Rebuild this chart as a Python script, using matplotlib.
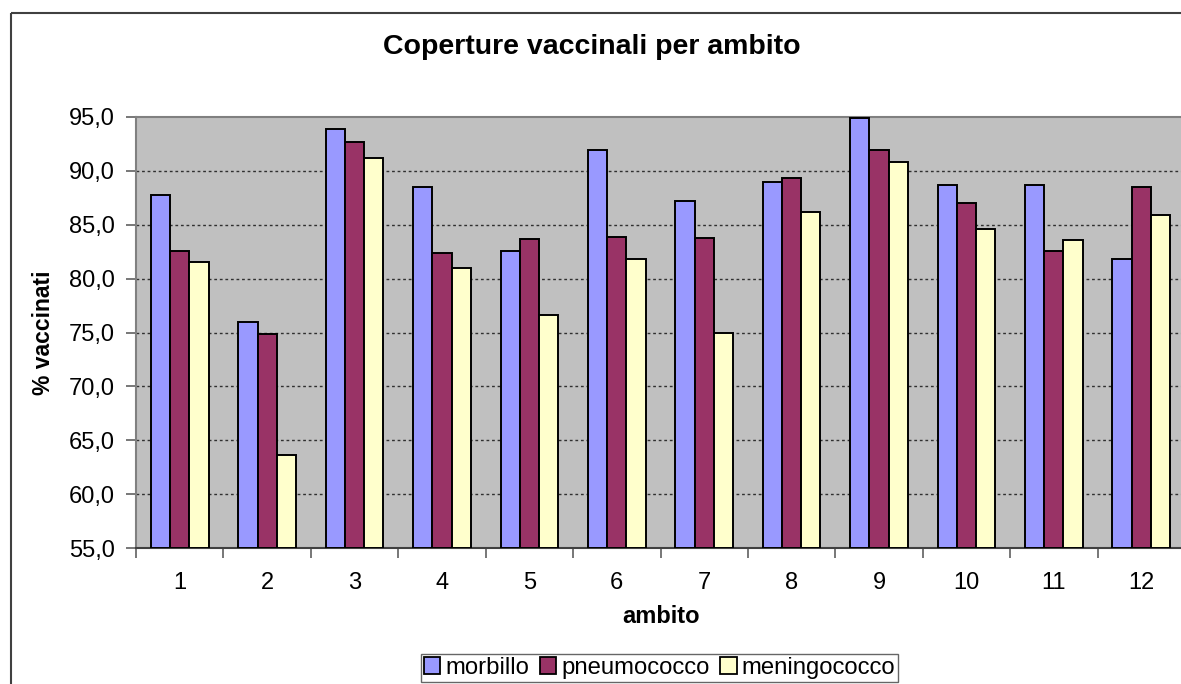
import matplotlib
matplotlib.use("Agg")
import matplotlib.pyplot as plt
from matplotlib.lines import Line2D
import numpy as np

plt.rcParams['font.family'] = ['Liberation Sans', 'DejaVu Sans']

categories = ['1', '2', '3', '4', '5', '6', '7', '8', '9', '10', '11', '12']
morbillo = [87.8, 76.0, 93.9, 88.5, 82.6, 91.9, 87.2, 89.0, 94.9, 88.7, 88.7, 81.8]
pneumococco = [82.6, 74.9, 92.7, 82.4, 83.7, 83.9, 83.8, 89.3, 91.9, 87.0, 82.6, 88.5]
meningococco = [81.5, 63.6, 91.2, 81.0, 76.6, 81.8, 75.0, 86.2, 90.8, 84.6, 83.6, 85.9]
series_names = ['morbillo', 'pneumococco', 'meningococco']
yticks = [55.0, 60.0, 65.0, 70.0, 75.0, 80.0, 85.0, 90.0, 95.0]
ytick_labels = ['55,0', '60,0', '65,0', '70,0', '75,0', '80,0', '85,0', '90,0', '95,0']

colors = ['#9999FF', '#993366', '#FFFFCC']

W, H = 1181, 684
fig = plt.figure(figsize=(W / 100, H / 100), dpi=100)

# outer chart frame (left and top edges; the rest lies beyond the image)
top = 1 - 13 / H
fig.add_artist(Line2D([11 / W, 11 / W], [0.0, top], transform=fig.transFigure,
                      color='#404040', linewidth=1.5, solid_capstyle='butt', zorder=0))
fig.add_artist(Line2D([11 / W, 1.0], [top, top], transform=fig.transFigure,
                      color='#404040', linewidth=1.5, solid_capstyle='butt', zorder=0,
                      clip_on=False))

ax = fig.add_axes([136 / W, (H - 548) / H, (1185 - 136) / W, (548 - 117) / H])
ax.set_facecolor('#C0C0C0')

x = np.arange(len(categories))
bw = 0.22
for i, (vals, name, c) in enumerate(zip([morbillo, pneumococco, meningococco], series_names, colors)):
    ax.bar(x + (i - 1) * bw, np.array(vals) - 55.0, bottom=55.0, width=bw,
           color=c, edgecolor='black', linewidth=1.4, label=name, zorder=3)

ax.set_xlim(-0.5, len(categories) - 0.5)
ax.set_ylim(55, 95)
ax.set_yticks(yticks)
ax.set_yticklabels(ytick_labels)
ax.set_xticks(x)
ax.set_xticklabels(categories)
ax.set_xticks(np.arange(len(categories) + 1) - 0.5, minor=True)
ax.tick_params(axis='x', which='major', length=0, pad=17, labelsize=17)
ax.tick_params(axis='x', which='minor', length=7, width=1.2, color='#606060')
ax.tick_params(axis='y', length=7, width=1.2, color='#606060', pad=8, labelsize=17)

for yv in yticks[1:-1]:
    ax.axhline(yv, color='#303030', linestyle=(0, (2, 2)), linewidth=1.0, zorder=1)

for s in ax.spines.values():
    s.set_color('#808080')
    s.set_linewidth(1.5)
ax.spines['bottom'].set_color('#404040')
ax.spines['right'].set_visible(False)

ax.set_xlabel('ambito', fontsize=17, fontweight='bold', labelpad=8)
ax.set_ylabel('% vaccinati', fontsize=16.5, fontweight='bold', labelpad=10)

fig.text(592 / W, 1 - 47 / H, 'Coperture vaccinali per ambito', fontsize=20.5,
         fontweight='bold', ha='center', va='center')

leg = fig.legend(loc='center', bbox_to_anchor=(659.5 / W, 1 - 668 / H), ncol=3,
                 fontsize=17.2, frameon=True, fancybox=False, handlelength=0.7,
                 handleheight=0.7, handletextpad=0.2, columnspacing=0.45,
                 borderpad=0.12, borderaxespad=0)
leg.get_frame().set_edgecolor('#404040')
leg.get_frame().set_linewidth(1.0)
for h in leg.legend_handles:
    h.set_linewidth(1.3)

fig.savefig('out.png', dpi=100)
